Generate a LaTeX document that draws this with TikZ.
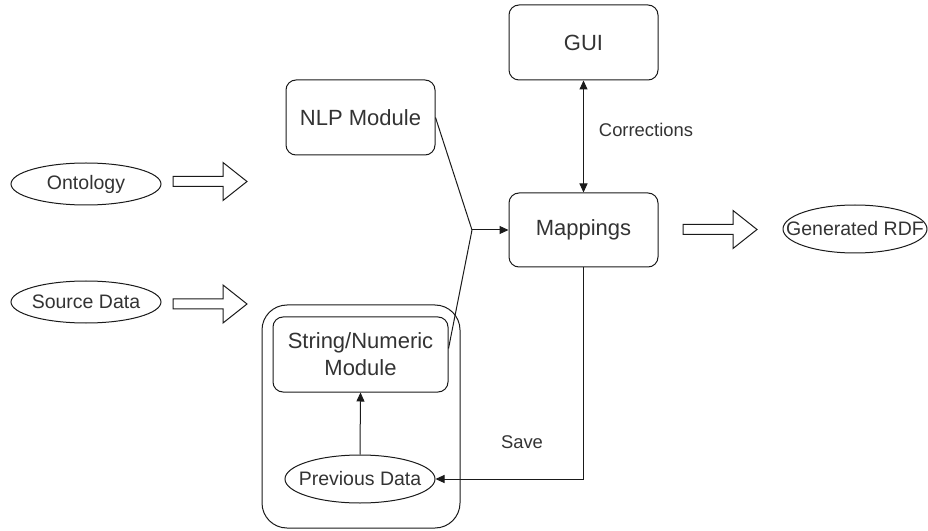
\documentclass[tikz,border=0pt]{standalone}
\usepackage{fontspec}
\setmainfont{Liberation Sans}
\usetikzlibrary{shapes.geometric,arrows.meta}
\definecolor{ln}{HTML}{1A1A1A}
\definecolor{tx}{HTML}{333333}
\begin{document}
\begin{tikzpicture}[x=1bp,y=-1bp,
 line/.style={draw=ln,line width=1bp},
 box/.style={line,rounded corners=10bp,minimum width=149bp,minimum height=75bp,inner sep=0pt,font=\fontsize{22bp}{27bp}\selectfont,text=tx,align=center},
 oval/.style={line,ellipse,minimum width=150bp,minimum height=42bp,inner sep=0pt},
 ovtext/.style={font=\fontsize{19.5bp}{24bp}\selectfont,text=tx,inner sep=0pt},
 lbl/.style={font=\fontsize{18.4bp}{22bp}\selectfont,text=tx},
 tip/.style={-{Triangle[length=9bp,width=8bp]}},
 barrow/.pic={\draw[line,line join=miter] (0,-5) -- (50,-5) -- (50,-19) -- (74,0) -- (50,19) -- (50,5) -- (0,5) -- cycle;}
]
\useasboundingbox (0,0) rectangle (928,531);

% container
\node[line,rounded corners=25bp,minimum width=198bp,minimum height=223bp,inner sep=0pt] (grp) at (361,416.5) {};

% ellipses
\node[oval] (ont) at (86,184) {};
\node[ovtext] (ontt) at (ont) {Ontology};
\node[oval] (src) at (86,302) {};
\node[ovtext] (srct) at (src) {Source Data};
\node[oval,minimum width=144bp,minimum height=48bp] (rdf) at (855,229) {};
\node[ovtext] (rdft) at (rdf) {Generated RDF};
\node[oval,minimum height=48bp] (prev) at (360,479) {};
\node[ovtext] (prevt) at (prev) {Previous Data};

% boxes
\node[box] (nlp) at (360.5,117.5) {NLP Module};
\node[box] (gui) at (583.5,42.5) {GUI};
\node[box,minimum height=74bp] (map) at (583.5,230) {Mappings};
\node[box,minimum width=175bp] (str) at (360.5,354.5) {String/Numeric\\Module};

% block arrows
\pic at (173,181.5) {barrow};
\pic at (173,304) {barrow};
\pic at (683,229.5) {barrow};

% connectors
\coordinate (j) at (472,230);
\draw[line] (nlp.east) -- (j);
\draw[line] ([yshift=6bp]str.east) -- (j);
\draw[line,tip] (j) -- (map.west);
\draw[line,{Triangle[length=9bp,width=8bp]}-{Triangle[length=9bp,width=8bp]}] (gui.south) -- (map.north);
\node[lbl] (corr) at (646,130) {Corrections};
\draw[line,tip] (map.south) |- (prev.east);
\node[lbl] (save) at (522,442) {Save};
\draw[line,tip] (prev.north) -- (str.south);
\end{tikzpicture}
\end{document}
